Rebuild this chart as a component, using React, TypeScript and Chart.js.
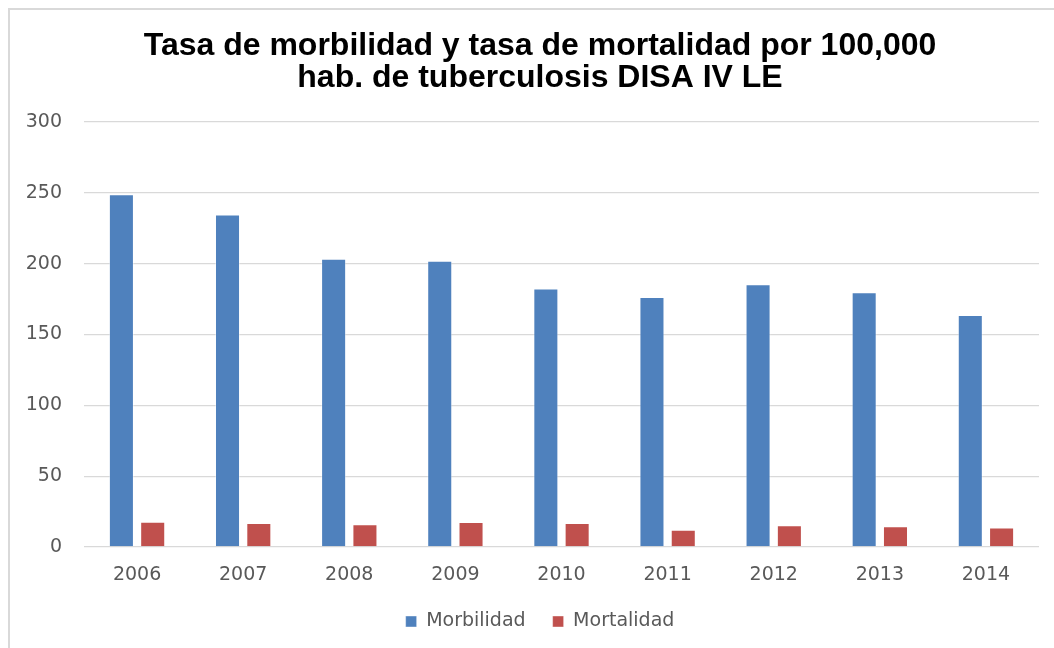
import React, { useEffect, useRef } from "react";
import { Chart, registerables } from "chart.js";

Chart.register(...registerables);

const years = ["2006", "2007", "2008", "2009", "2010", "2011", "2012", "2013", "2014"];
const morbilidad = [249, 234.7, 203.5, 202, 182.4, 176.5, 185.4, 179.8, 163.8];
const mortalidad = [17.9, 16.9, 16, 17.7, 17, 12.1, 15.3, 14.6, 13.8];
const titleLines = [
  "Tasa de morbilidad y tasa de mortalidad por 100,000",
  "hab. de tuberculosis DISA IV LE",
];
const seriesNames = ["Morbilidad", "Mortalidad"];

export default function App() {
  const ref = useRef<HTMLCanvasElement | null>(null);
  useEffect(() => {
    if (!ref.current) return;
    const tickFont = { family: "'DejaVu Sans', sans-serif", size: 19 };
    const chart = new Chart(ref.current, {
      type: "bar",
      data: {
        labels: years,
        datasets: [
          {
            label: seriesNames[0],
            data: morbilidad,
            backgroundColor: "#4F81BD",
            borderColor: "rgba(255,255,255,0.4)",
            borderWidth: 1,
            categoryPercentage: 0.59,
            barPercentage: 0.8,
          },
          {
            label: seriesNames[1],
            data: mortalidad,
            backgroundColor: "#C0504D",
            borderColor: "rgba(255,255,255,0.4)",
            borderWidth: 1,
            categoryPercentage: 0.59,
            barPercentage: 0.8,
          },
        ],
      },
      options: {
        animation: false,
        responsive: false,
        maintainAspectRatio: false,
        layout: { padding: 0 },
        plugins: {
          title: {
            display: true,
            text: titleLines,
            color: "#000000",
            font: { family: "'Liberation Sans', Arial, sans-serif", weight: "bold", size: 32, lineHeight: 1.0 },
            padding: { top: 20, bottom: 28 },
          },
          legend: {
            position: "bottom",
            labels: {
              boxWidth: 11,
              boxHeight: 11,
              padding: 27,
              color: "#595959",
              font: tickFont,
            },
          },
          tooltip: { enabled: false },
        },
        scales: {
          x: {
            grid: { display: false, drawTicks: false },
            border: { display: false },
            ticks: { color: "#595959", font: tickFont, padding: 17 },
            afterFit: (s: any) => { s.height = 38; },
          },
          y: {
            min: 0,
            max: 300,
            grid: { color: "#d9d9d9", lineWidth: 1.3, drawTicks: false },
            border: { display: false },
            ticks: { stepSize: 50, color: "#595959", font: tickFont, padding: 22 },
            afterFit: (s: any) => { s.width = 74; },
          },
          rightSpace: {
            type: "linear",
            position: "right",
            display: true,
            grid: { display: false, drawTicks: false },
            border: { display: false },
            ticks: { display: false },
            afterFit: (s: any) => { s.width = 31; },
          },
        },
      },
    });
    return () => chart.destroy();
  }, []);
  return (
    <div
      style={{
        position: "fixed",
        left: 8,
        top: 8,
        width: 1046,
        height: 640,
        boxSizing: "border-box",
        borderTop: "2px solid #d9d9d9",
        borderLeft: "2px solid #d9d9d9",
        background: "#fff",
        overflow: "hidden",
      }}
    >
      <canvas ref={ref} width={1060} height={631} style={{ display: "block" }} />
    </div>
  );
}
